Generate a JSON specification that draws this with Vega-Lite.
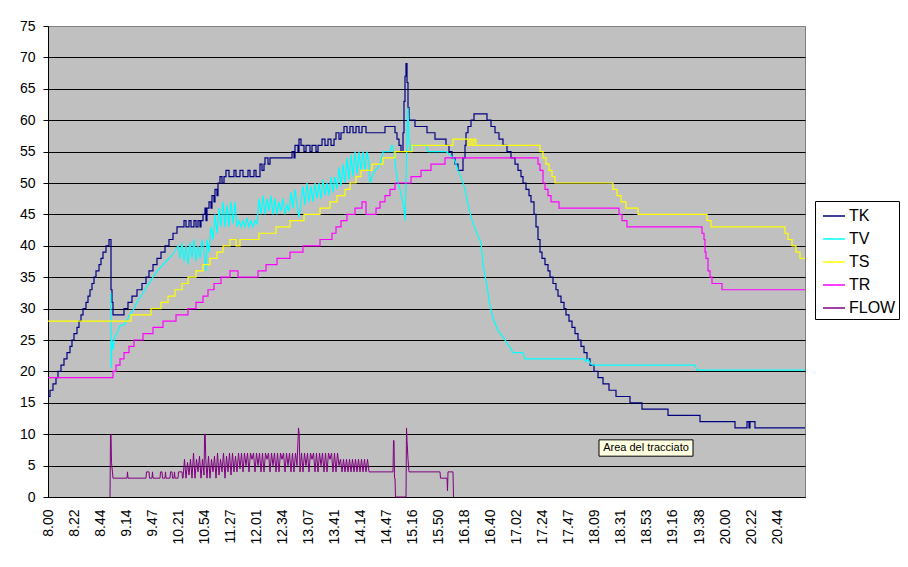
{
"$schema": "https://vega.github.io/schema/vega-lite/v6.json",
"width": 757, "height": 471,
"autosize": {"type": "none"},
"padding": {"left": 48, "top": 26, "right": 103, "bottom": 70},
"background": "white",
"view": {"fill": "#C0C0C0", "stroke": "#808080", "strokeWidth": 1},
"datasets": {
"TK": [{"n":0,"v":16},{"n":2,"v":17},{"n":5,"v":18},{"n":8,"v":19},{"n":10,"v":20},{"n":13,"v":21},{"n":16,"v":22},{"n":19,"v":23},{"n":22,"v":24},{"n":24,"v":25},{"n":26,"v":26},{"n":29,"v":27},{"n":31,"v":28},{"n":33,"v":29},{"n":35,"v":30},{"n":38,"v":31},{"n":40,"v":32},{"n":42,"v":33},{"n":44,"v":34},{"n":46,"v":35},{"n":48,"v":36},{"n":51,"v":37},{"n":53,"v":38},{"n":55,"v":39},{"n":58,"v":40},{"n":61,"v":41},{"n":63,"v":33},{"n":64,"v":31},{"n":65,"v":29},{"n":76,"v":30},{"n":80,"v":31},{"n":84,"v":32},{"n":89,"v":33},{"n":94,"v":34},{"n":98,"v":35},{"n":101,"v":36},{"n":105,"v":37},{"n":109,"v":38},{"n":113,"v":39},{"n":117,"v":40},{"n":121,"v":41},{"n":125,"v":42},{"n":129,"v":43},{"n":136,"v":44},{"n":138,"v":43},{"n":141,"v":44},{"n":143,"v":43},{"n":146,"v":44},{"n":148,"v":43},{"n":150,"v":44},{"n":152,"v":43},{"n":153,"v":44},{"n":155,"v":45},{"n":157,"v":46},{"n":158,"v":44},{"n":159,"v":46},{"n":161,"v":47},{"n":163,"v":46},{"n":164,"v":48},{"n":166,"v":47},{"n":167,"v":49},{"n":169,"v":48},{"n":170,"v":50},{"n":172,"v":51},{"n":174,"v":50},{"n":176,"v":51},{"n":178,"v":52},{"n":181,"v":51},{"n":186,"v":52},{"n":188,"v":51},{"n":192,"v":52},{"n":195,"v":51},{"n":200,"v":52},{"n":202,"v":51},{"n":206,"v":52},{"n":208,"v":51},{"n":212,"v":53},{"n":214,"v":52},{"n":216,"v":53},{"n":217,"v":54},{"n":220,"v":53},{"n":222,"v":54},{"n":244,"v":55},{"n":246,"v":54},{"n":247,"v":56},{"n":250,"v":55},{"n":251,"v":57},{"n":253,"v":56},{"n":256,"v":55},{"n":258,"v":56},{"n":262,"v":55},{"n":264,"v":56},{"n":268,"v":55},{"n":270,"v":56},{"n":274,"v":57},{"n":277,"v":56},{"n":280,"v":57},{"n":283,"v":56},{"n":286,"v":57},{"n":288,"v":58},{"n":291,"v":57},{"n":293,"v":58},{"n":296,"v":59},{"n":299,"v":58},{"n":302,"v":59},{"n":305,"v":58},{"n":308,"v":59},{"n":311,"v":58},{"n":314,"v":59},{"n":318,"v":58},{"n":337,"v":59},{"n":347,"v":58},{"n":349,"v":57},{"n":351,"v":56},{"n":353,"v":55},{"n":355,"v":58},{"n":356,"v":63},{"n":357,"v":67},{"n":358,"v":69},{"n":359,"v":66},{"n":360,"v":62},{"n":361,"v":60},{"n":367,"v":59},{"n":379,"v":58},{"n":387,"v":57},{"n":398,"v":56},{"n":401,"v":55},{"n":404,"v":54},{"n":407,"v":53},{"n":410,"v":52},{"n":415,"v":54},{"n":417,"v":56},{"n":418,"v":58},{"n":420,"v":59},{"n":423,"v":60},{"n":426,"v":61},{"n":439,"v":60},{"n":443,"v":59},{"n":447,"v":58},{"n":451,"v":57},{"n":455,"v":56},{"n":459,"v":55},{"n":463,"v":54},{"n":467,"v":53},{"n":470,"v":52},{"n":473,"v":51},{"n":475,"v":50},{"n":478,"v":49},{"n":481,"v":48},{"n":483,"v":47},{"n":486,"v":45},{"n":488,"v":43},{"n":490,"v":41},{"n":492,"v":39},{"n":494,"v":38},{"n":497,"v":37},{"n":500,"v":36},{"n":502,"v":35},{"n":505,"v":34},{"n":508,"v":33},{"n":510,"v":32},{"n":513,"v":31},{"n":516,"v":30},{"n":518,"v":29},{"n":521,"v":28},{"n":524,"v":27},{"n":527,"v":26},{"n":530,"v":25},{"n":533,"v":24},{"n":536,"v":23},{"n":539,"v":22},{"n":542,"v":21},{"n":546,"v":20},{"n":550,"v":19},{"n":555,"v":18},{"n":561,"v":17},{"n":568,"v":16},{"n":582,"v":15},{"n":594,"v":14},{"n":620,"v":13},{"n":652,"v":12},{"n":687,"v":11},{"n":699,"v":12},{"n":701,"v":11},{"n":702,"v":12},{"n":707,"v":11},{"n":757,"v":11}],
"TV": [{"n":62.7,"v":32.5},{"n":63.2,"v":20.5},{"n":64,"v":25},{"n":65,"v":23.5},{"n":66.5,"v":25.5},{"n":69,"v":26},{"n":72,"v":27.3},{"n":77,"v":27.5},{"n":80,"v":28.5},{"n":83,"v":29.3},{"n":86,"v":30},{"n":89,"v":31},{"n":93,"v":32},{"n":97,"v":33},{"n":102,"v":34.3},{"n":107,"v":35.5},{"n":112,"v":36.5},{"n":118,"v":37.5},{"n":124,"v":38.5},{"n":130,"v":40},{"n":132,"v":38},{"n":134,"v":40.5},{"n":136,"v":37.5},{"n":138,"v":40},{"n":140,"v":37},{"n":142,"v":40.5},{"n":144,"v":38},{"n":146,"v":41},{"n":148,"v":37.5},{"n":150,"v":40},{"n":152,"v":38},{"n":154,"v":41},{"n":156,"v":39},{"n":158,"v":36},{"n":159,"v":41},{"n":161,"v":39},{"n":163,"v":43},{"n":165,"v":41},{"n":167,"v":45},{"n":169,"v":42},{"n":171,"v":46},{"n":173,"v":43},{"n":175,"v":47},{"n":177,"v":43},{"n":179,"v":46.5},{"n":181,"v":43},{"n":183,"v":47},{"n":185,"v":43.5},{"n":187,"v":47},{"n":189,"v":43},{"n":191,"v":44},{"n":193,"v":43},{"n":195,"v":44},{"n":197,"v":43},{"n":199,"v":44.5},{"n":201,"v":43},{"n":203,"v":44},{"n":205,"v":43},{"n":207,"v":44},{"n":209,"v":43.5},{"n":211,"v":47.5},{"n":213,"v":45},{"n":215,"v":48},{"n":217,"v":45},{"n":219,"v":47.5},{"n":221,"v":45.5},{"n":223,"v":48},{"n":225,"v":45},{"n":227,"v":47.5},{"n":229,"v":45},{"n":231,"v":47},{"n":233,"v":45.5},{"n":235,"v":47.5},{"n":237,"v":45},{"n":239,"v":46.5},{"n":241,"v":45.5},{"n":243,"v":48.5},{"n":245,"v":46},{"n":247,"v":49},{"n":249,"v":46.5},{"n":251,"v":44.5},{"n":253,"v":47},{"n":255,"v":49.5},{"n":257,"v":46.5},{"n":259,"v":50},{"n":261,"v":47},{"n":263,"v":49.5},{"n":265,"v":47},{"n":267,"v":50},{"n":269,"v":47.5},{"n":271,"v":50},{"n":273,"v":47.5},{"n":275,"v":50.5},{"n":277,"v":48},{"n":279,"v":50},{"n":281,"v":48},{"n":283,"v":51},{"n":285,"v":48.5},{"n":287,"v":51},{"n":289,"v":49},{"n":291,"v":52.5},{"n":293,"v":49.5},{"n":295,"v":53},{"n":297,"v":50},{"n":299,"v":54},{"n":301,"v":50.5},{"n":303,"v":54.5},{"n":305,"v":51},{"n":307,"v":55},{"n":309,"v":51.5},{"n":311,"v":55},{"n":313,"v":52},{"n":315,"v":55},{"n":317,"v":52},{"n":319,"v":55},{"n":321,"v":53},{"n":322,"v":50},{"n":324,"v":51},{"n":327,"v":52},{"n":330,"v":52.5},{"n":333,"v":53.5},{"n":335,"v":55},{"n":342,"v":55},{"n":344,"v":56},{"n":346,"v":55},{"n":348,"v":52},{"n":350,"v":50},{"n":352,"v":49},{"n":354,"v":47.5},{"n":356,"v":46},{"n":357,"v":44},{"n":358,"v":50},{"n":359,"v":58},{"n":360,"v":62},{"n":361,"v":57},{"n":363,"v":55},{"n":365,"v":56},{"n":378,"v":56},{"n":380,"v":55},{"n":398,"v":55},{"n":402,"v":54.5},{"n":405,"v":54},{"n":407,"v":53.5},{"n":410,"v":52},{"n":414,"v":50.5},{"n":417,"v":49},{"n":420,"v":46.5},{"n":424,"v":44},{"n":429,"v":42},{"n":433,"v":40.5},{"n":435,"v":37},{"n":439,"v":33.5},{"n":442,"v":30.5},{"n":445,"v":28.5},{"n":450,"v":26.5},{"n":455,"v":25.5},{"n":460,"v":24.3},{"n":465,"v":23},{"n":475,"v":23},{"n":477,"v":22},{"n":536,"v":22},{"n":538,"v":21.5},{"n":540,"v":22},{"n":542,"v":21.3},{"n":545,"v":21},{"n":647,"v":21},{"n":649,"v":20.2},{"n":757,"v":20.2}],
"TS": [{"n":0,"v":28},{"n":83,"v":29},{"n":103,"v":30},{"n":113,"v":31},{"n":120,"v":32},{"n":127,"v":33},{"n":134,"v":34},{"n":140,"v":35},{"n":148,"v":36},{"n":155,"v":37},{"n":162,"v":38},{"n":169,"v":39},{"n":175,"v":40},{"n":182,"v":41},{"n":188,"v":40},{"n":192,"v":41},{"n":211,"v":42},{"n":228,"v":43},{"n":242,"v":44},{"n":256,"v":45},{"n":272,"v":46},{"n":282,"v":47},{"n":289,"v":48},{"n":297,"v":49},{"n":302,"v":50},{"n":308,"v":51},{"n":313,"v":52},{"n":324,"v":53},{"n":335,"v":54},{"n":347,"v":55},{"n":364,"v":56},{"n":405,"v":57},{"n":420,"v":56},{"n":422,"v":57},{"n":424,"v":56},{"n":426,"v":57},{"n":428,"v":56},{"n":492,"v":55},{"n":495,"v":54},{"n":498,"v":53},{"n":501,"v":52},{"n":504,"v":51},{"n":507,"v":50},{"n":565,"v":49},{"n":569,"v":48},{"n":573,"v":47},{"n":578,"v":46},{"n":590,"v":45},{"n":659,"v":44},{"n":663,"v":43},{"n":737,"v":42},{"n":740,"v":41},{"n":744,"v":40},{"n":748,"v":39},{"n":752,"v":38},{"n":757,"v":38}],
"TR": [{"n":0,"v":19},{"n":65,"v":20},{"n":68,"v":21},{"n":72,"v":22},{"n":76,"v":23},{"n":81,"v":24},{"n":86,"v":25},{"n":95,"v":26},{"n":105,"v":27},{"n":115,"v":28},{"n":128,"v":29},{"n":140,"v":30},{"n":148,"v":31},{"n":155,"v":32},{"n":160,"v":33},{"n":166,"v":34},{"n":173,"v":35},{"n":182,"v":36},{"n":190,"v":35},{"n":210,"v":36},{"n":218,"v":37},{"n":229,"v":38},{"n":242,"v":39},{"n":255,"v":40},{"n":272,"v":41},{"n":284,"v":42},{"n":288,"v":43},{"n":293,"v":44},{"n":299,"v":45},{"n":307,"v":46},{"n":314,"v":47},{"n":318,"v":45},{"n":328,"v":46},{"n":332,"v":47},{"n":337,"v":48},{"n":342,"v":49},{"n":347,"v":50},{"n":363,"v":51},{"n":373,"v":52},{"n":383,"v":53},{"n":397,"v":54},{"n":490,"v":53},{"n":492,"v":52},{"n":495,"v":50},{"n":497,"v":49},{"n":500,"v":48},{"n":503,"v":47},{"n":511,"v":46},{"n":571,"v":45},{"n":574,"v":44},{"n":579,"v":43},{"n":654,"v":42},{"n":656,"v":41},{"n":657,"v":39},{"n":658,"v":38},{"n":660,"v":36},{"n":662,"v":35},{"n":664,"v":34},{"n":674,"v":33},{"n":757,"v":33}],
"FLOW": [{"n":62,"v":0},{"n":62.5,"v":10},{"n":63,"v":10},{"n":63.5,"v":5.5},{"n":65,"v":3},{"n":79,"v":3},{"n":79.5,"v":4},{"n":80,"v":3},{"n":98,"v":3},{"n":98.5,"v":4},{"n":101,"v":4},{"n":101.5,"v":3},{"n":104,"v":3},{"n":104.5,"v":4},{"n":105,"v":3},{"n":112,"v":3},{"n":112.5,"v":4},{"n":114,"v":4},{"n":114.5,"v":3},{"n":117,"v":3},{"n":117.5,"v":4},{"n":118,"v":3},{"n":122,"v":3},{"n":122.5,"v":4},{"n":124,"v":4},{"n":124.5,"v":3},{"n":126,"v":3},{"n":126.5,"v":4},{"n":127,"v":3},{"n":130,"v":3},{"n":130.5,"v":4},{"n":134,"v":4},{"n":134.5,"v":3},{"n":135,"v":3},{"n":136.5,"v":6},{"n":138,"v":3},{"n":139.5,"v":5.5},{"n":141,"v":3.5},{"n":142.5,"v":6},{"n":144,"v":3},{"n":145.5,"v":7},{"n":147,"v":3},{"n":148.5,"v":6},{"n":150,"v":4},{"n":151.5,"v":6.5},{"n":153,"v":3},{"n":154.5,"v":6},{"n":156,"v":3.5},{"n":156.6,"v":10},{"n":157.2,"v":10},{"n":157.8,"v":6},{"n":159,"v":3},{"n":160.5,"v":6.5},{"n":162,"v":3},{"n":163.5,"v":6},{"n":165,"v":4},{"n":166.5,"v":6.5},{"n":168,"v":3},{"n":169.5,"v":7},{"n":171,"v":3.5},{"n":172.5,"v":6},{"n":174,"v":4},{"n":175.5,"v":7},{"n":177,"v":3},{"n":178.5,"v":6.5},{"n":180,"v":4},{"n":181.5,"v":7},{"n":183,"v":3.5},{"n":184.5,"v":7},{"n":186,"v":4},{"n":187.5,"v":6.5},{"n":189,"v":4},{"n":190.5,"v":7},{"n":192,"v":4.5},{"n":193.5,"v":7},{"n":195,"v":4},{"n":196.5,"v":7},{"n":198,"v":5},{"n":199.5,"v":7},{"n":201,"v":4},{"n":202.5,"v":7},{"n":204,"v":6},{"n":205.5,"v":7},{"n":207,"v":4},{"n":208.5,"v":7},{"n":210,"v":5},{"n":211.5,"v":7},{"n":213,"v":4},{"n":214.5,"v":7},{"n":216,"v":4},{"n":217.5,"v":7},{"n":219,"v":6},{"n":220.5,"v":7},{"n":222,"v":4},{"n":223.5,"v":7},{"n":225,"v":5},{"n":226.5,"v":7},{"n":228,"v":4},{"n":229.5,"v":7},{"n":231,"v":4},{"n":232.5,"v":7},{"n":234,"v":6},{"n":235.5,"v":7},{"n":237,"v":4},{"n":238.5,"v":7},{"n":240,"v":5},{"n":241.5,"v":7},{"n":243,"v":4},{"n":244.5,"v":7},{"n":246,"v":4},{"n":247.5,"v":7},{"n":249,"v":5},{"n":250.5,"v":11},{"n":251.2,"v":10},{"n":252,"v":4},{"n":253.5,"v":7},{"n":255,"v":4},{"n":256.5,"v":7},{"n":258,"v":5},{"n":259.5,"v":7},{"n":261,"v":4},{"n":262.5,"v":7},{"n":264,"v":6},{"n":265.5,"v":7},{"n":267,"v":4},{"n":268.5,"v":7},{"n":270,"v":4},{"n":271.5,"v":7},{"n":273,"v":5},{"n":274.5,"v":7},{"n":276,"v":4},{"n":277.5,"v":7},{"n":279,"v":4},{"n":280.5,"v":7},{"n":282,"v":6},{"n":283.5,"v":7},{"n":285,"v":4},{"n":286.5,"v":7},{"n":288,"v":4},{"n":289.5,"v":7},{"n":291,"v":5},{"n":292.5,"v":6},{"n":294,"v":4},{"n":295.5,"v":6},{"n":297,"v":4},{"n":298.5,"v":6},{"n":300,"v":4},{"n":301.5,"v":6},{"n":303,"v":4},{"n":304.5,"v":6},{"n":306,"v":4},{"n":307.5,"v":6},{"n":309,"v":4},{"n":310.5,"v":6},{"n":312,"v":4},{"n":313.5,"v":6},{"n":315,"v":4},{"n":316.5,"v":6},{"n":318,"v":4},{"n":319.5,"v":6},{"n":321,"v":4},{"n":345,"v":4},{"n":345.5,"v":9},{"n":346,"v":9},{"n":346.5,"v":3},{"n":347,"v":3},{"n":347.5,"v":0},{"n":358,"v":0},{"n":358.5,"v":11},{"n":359,"v":9},{"n":360,"v":6},{"n":361,"v":4},{"n":392,"v":4},{"n":392.5,"v":3},{"n":399,"v":3},{"n":399.5,"v":1},{"n":400,"v":4},{"n":405,"v":4},{"n":405.5,"v":0}],
"note": [{"n":551,"n2":645,"v":9.1,"v2":6.5}],
"notetext": [{"n":598,"v":7.8,"label":"Area del tracciato"}]
},
"encoding": {
"x": {"field": "n", "type": "quantitative", "title": null,
 "scale": {"domain": [0, 757], "nice": false, "zero": false},
 "axis": {"values": [0,26.04,52.08,78.12,104.16,130.2,156.24,182.28,208.32,234.36,260.4,286.44,312.48,338.52,364.56,390.6,416.64,442.68,468.72,494.76,520.8,546.84,572.88,598.92,624.96,651,677.04,703.08,729.12],
  "labelExpr": "['8.00','8.22','8.44','9.14','9.47','10.21','10.54','11.27','12.01','12.34','13.07','13.41','14.14','14.47','15.16','15.50','16.18','16.40','17.02','17.24','17.47','18.09','18.31','18.53','19.16','19.38','20.00','20.22','20.44'][round(datum.value/26.04)]",
  "labelAngle": -90, "labelAlign": "right", "labelBaseline": "middle",
  "labelFont": "Liberation Sans", "labelFontSize": 14, "labelColor": "black",
  "ticks": false, "labelPadding": 12, "domainColor": "black", "domainWidth": 1,
  "grid": false, "labelOverlap": false, "labelFlush": false, "labelBound": false}},
"y": {"field": "v", "type": "quantitative", "title": null,
 "scale": {"domain": [0, 75], "nice": false, "zero": true},
 "axis": {"values": [0,5,10,15,20,25,30,35,40,45,50,55,60,65,70,75],
  "grid": true, "gridColor": {"condition": {"test": "datum.value == 75", "value": "#808080"}, "value": "black"},
  "gridWidth": 1, "gridOpacity": 1, "domainColor": "black", "domainWidth": 1,
  "tickColor": "black", "tickSize": 5, "labelFont": "Liberation Sans", "labelFontSize": 14,
  "labelColor": "black", "labelPadding": 8, "labelOverlap": false, "labelFlush": false}}
},
"layer": [
{"data": {"name": "TK"}, "mark": {"type": "line", "interpolate": "step-after", "strokeWidth": 1.2},
 "encoding": {"color": {"datum": "TK", "type": "nominal", "title": null, "scale": {"domain": ["TK","TV","TS","TR","FLOW"], "range": ["#000080","#00FFFF","#FFFF00","#FF00FF","#800080"]}}}},
{"data": {"name": "TV"}, "mark": {"type": "line", "strokeWidth": 1.2},
 "encoding": {"color": {"datum": "TV", "type": "nominal", "title": null, "scale": {"domain": ["TK","TV","TS","TR","FLOW"], "range": ["#000080","#00FFFF","#FFFF00","#FF00FF","#800080"]}}}},
{"data": {"name": "TS"}, "mark": {"type": "line", "interpolate": "step-after", "strokeWidth": 1.2},
 "encoding": {"color": {"datum": "TS", "type": "nominal", "title": null, "scale": {"domain": ["TK","TV","TS","TR","FLOW"], "range": ["#000080","#00FFFF","#FFFF00","#FF00FF","#800080"]}}}},
{"data": {"name": "TR"}, "mark": {"type": "line", "interpolate": "step-after", "strokeWidth": 1.2},
 "encoding": {"color": {"datum": "TR", "type": "nominal", "title": null, "scale": {"domain": ["TK","TV","TS","TR","FLOW"], "range": ["#000080","#00FFFF","#FFFF00","#FF00FF","#800080"]}}}},
{"data": {"name": "FLOW"}, "mark": {"type": "line", "strokeWidth": 1},
 "encoding": {"color": {"datum": "FLOW", "type": "nominal", "title": null, "scale": {"domain": ["TK","TV","TS","TR","FLOW"], "range": ["#000080","#00FFFF","#FFFF00","#FF00FF","#800080"]}}}},
{"data": {"name": "note"}, "mark": {"type": "rect", "fill": "#FFFFE1", "stroke": "black", "strokeWidth": 1},
 "encoding": {"x2": {"field": "n2"}, "y2": {"field": "v2"}}},
{"data": {"name": "notetext"}, "mark": {"type": "text", "font": "Liberation Sans", "fontSize": 11, "color": "black", "align": "center", "baseline": "middle"},
 "encoding": {"text": {"field": "label"}}}
],
"config": {
 "legend": {"orient": "none", "legendX": 767, "legendY": 175, "strokeColor": "black", "fillColor": "white",
  "padding": 3, "labelFont": "Liberation Sans", "labelFontSize": 16, "labelColor": "black",
  "symbolType": "stroke", "symbolSize": 484, "symbolStrokeWidth": 1.5, "rowPadding": 3,
  "labelOffset": 3, "symbolOffset": 4, "cornerRadius": 0}
}
}
